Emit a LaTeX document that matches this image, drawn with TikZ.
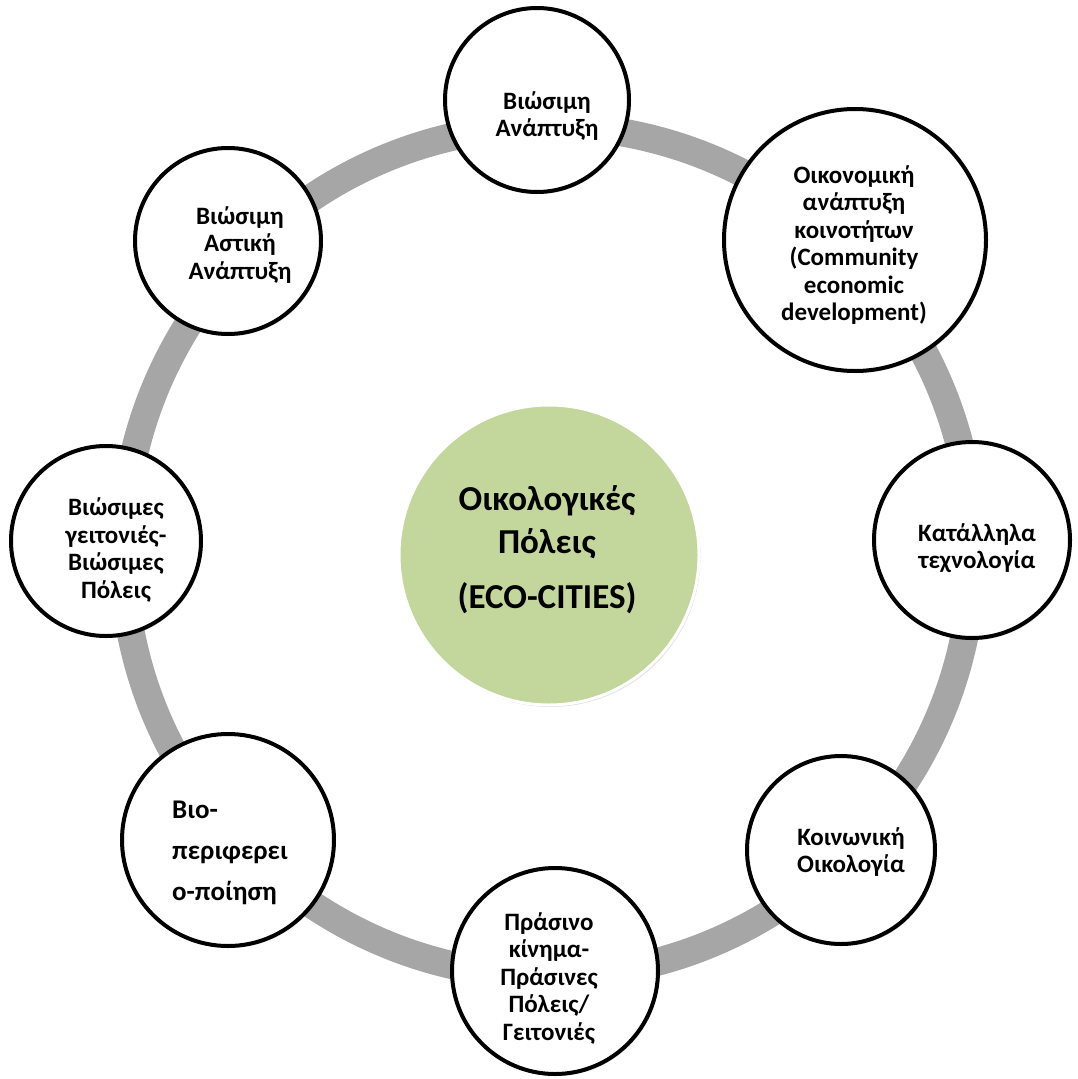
\documentclass[tikz,border=0pt]{standalone}
\usepackage{fontspec}
\setmainfont{Carlito}
\usetikzlibrary{shadows}
\definecolor{ringgrey}{HTML}{A6A6A6}
\definecolor{ecogreen}{HTML}{C3D69B}
\begin{document}
\begin{tikzpicture}[x=1pt,y=-1pt,
  outer/.style={circle, draw=black, line width=4pt, fill=white, inner sep=0pt,
    drop shadow={shadow xshift=1.5pt, shadow yshift=-2pt, opacity=0.15, fill=black}},
  lbl/.style={align=center, font=\bfseries\fontsize{25}{27.5}\selectfont, text=black, inner sep=0pt},
  biolbl/.style={align=left, font=\bfseries\fontsize{27}{41}\selectfont, text=black, inner sep=0pt},
  centrelbl/.style={align=center, font=\bfseries\fontsize{35}{43}\selectfont, text=black, inner sep=0pt}]
\useasboundingbox (0,0) rectangle (1078,1079);
\fill[white] (0,0) rectangle (1078,1079);
\coordinate (o) at (548,551);
\draw[line width=28pt, color=ringgrey] (o) circle (425pt);
% centre
\node[circle, fill=ecogreen, draw=white, line width=3pt, minimum size=300pt, inner sep=0pt,
  drop shadow={shadow xshift=1.5pt, shadow yshift=-2pt, opacity=0.12, fill=black}] (c0) at (549,555) {};
\node[centrelbl] (t0) at (547,550) {Οικολογικές\\Πόλεις\\[12pt](ECO-CITIES)};
% outer circles
\node[outer, minimum size=184pt] (c1) at (537,100) {};
\node[outer, minimum size=262pt] (c2) at (855,240) {};
\node[outer, minimum size=196pt] (c3) at (972,540) {};
\node[outer, minimum size=188pt] (c4) at (841,850) {};
\node[outer, minimum size=206pt] (c5) at (555,971) {};
\node[outer, minimum size=212pt] (c6) at (228,840) {};
\node[outer, minimum size=190pt] (c7) at (106,541) {};
\node[outer, minimum size=186pt] (c8) at (228,241) {};
% labels
\node[lbl] (t1) at (547,116) {Βιώσιμη\\Ανάπτυξη};
\node[lbl] (t2) at (854,245) {Οικονομική\\ανάπτυξη\\κοινοτήτων\\(Community\\economic\\development)};
\node[lbl] (t3) at (977,548) {Κατάλληλα\\τεχνολογία};
\node[lbl] (t4) at (851,852) {Κοινωνική\\Οικολογία};
\node[lbl] (t5) at (549,978) {Πράσινο\\κίνημα-\\Πράσινες\\Πόλεις/\\Γειτονιές};
\node[biolbl, anchor=west] (t6) at (172,853) {Βιο-\\περιφερει\\ο-ποίηση};
\node[lbl] (t7) at (116,550) {Βιώσιμες\\γειτονιές-\\Βιώσιμες\\Πόλεις};
\node[lbl] (t8) at (240,245) {Βιώσιμη\\Αστική\\Ανάπτυξη};
\end{tikzpicture}
\end{document}
